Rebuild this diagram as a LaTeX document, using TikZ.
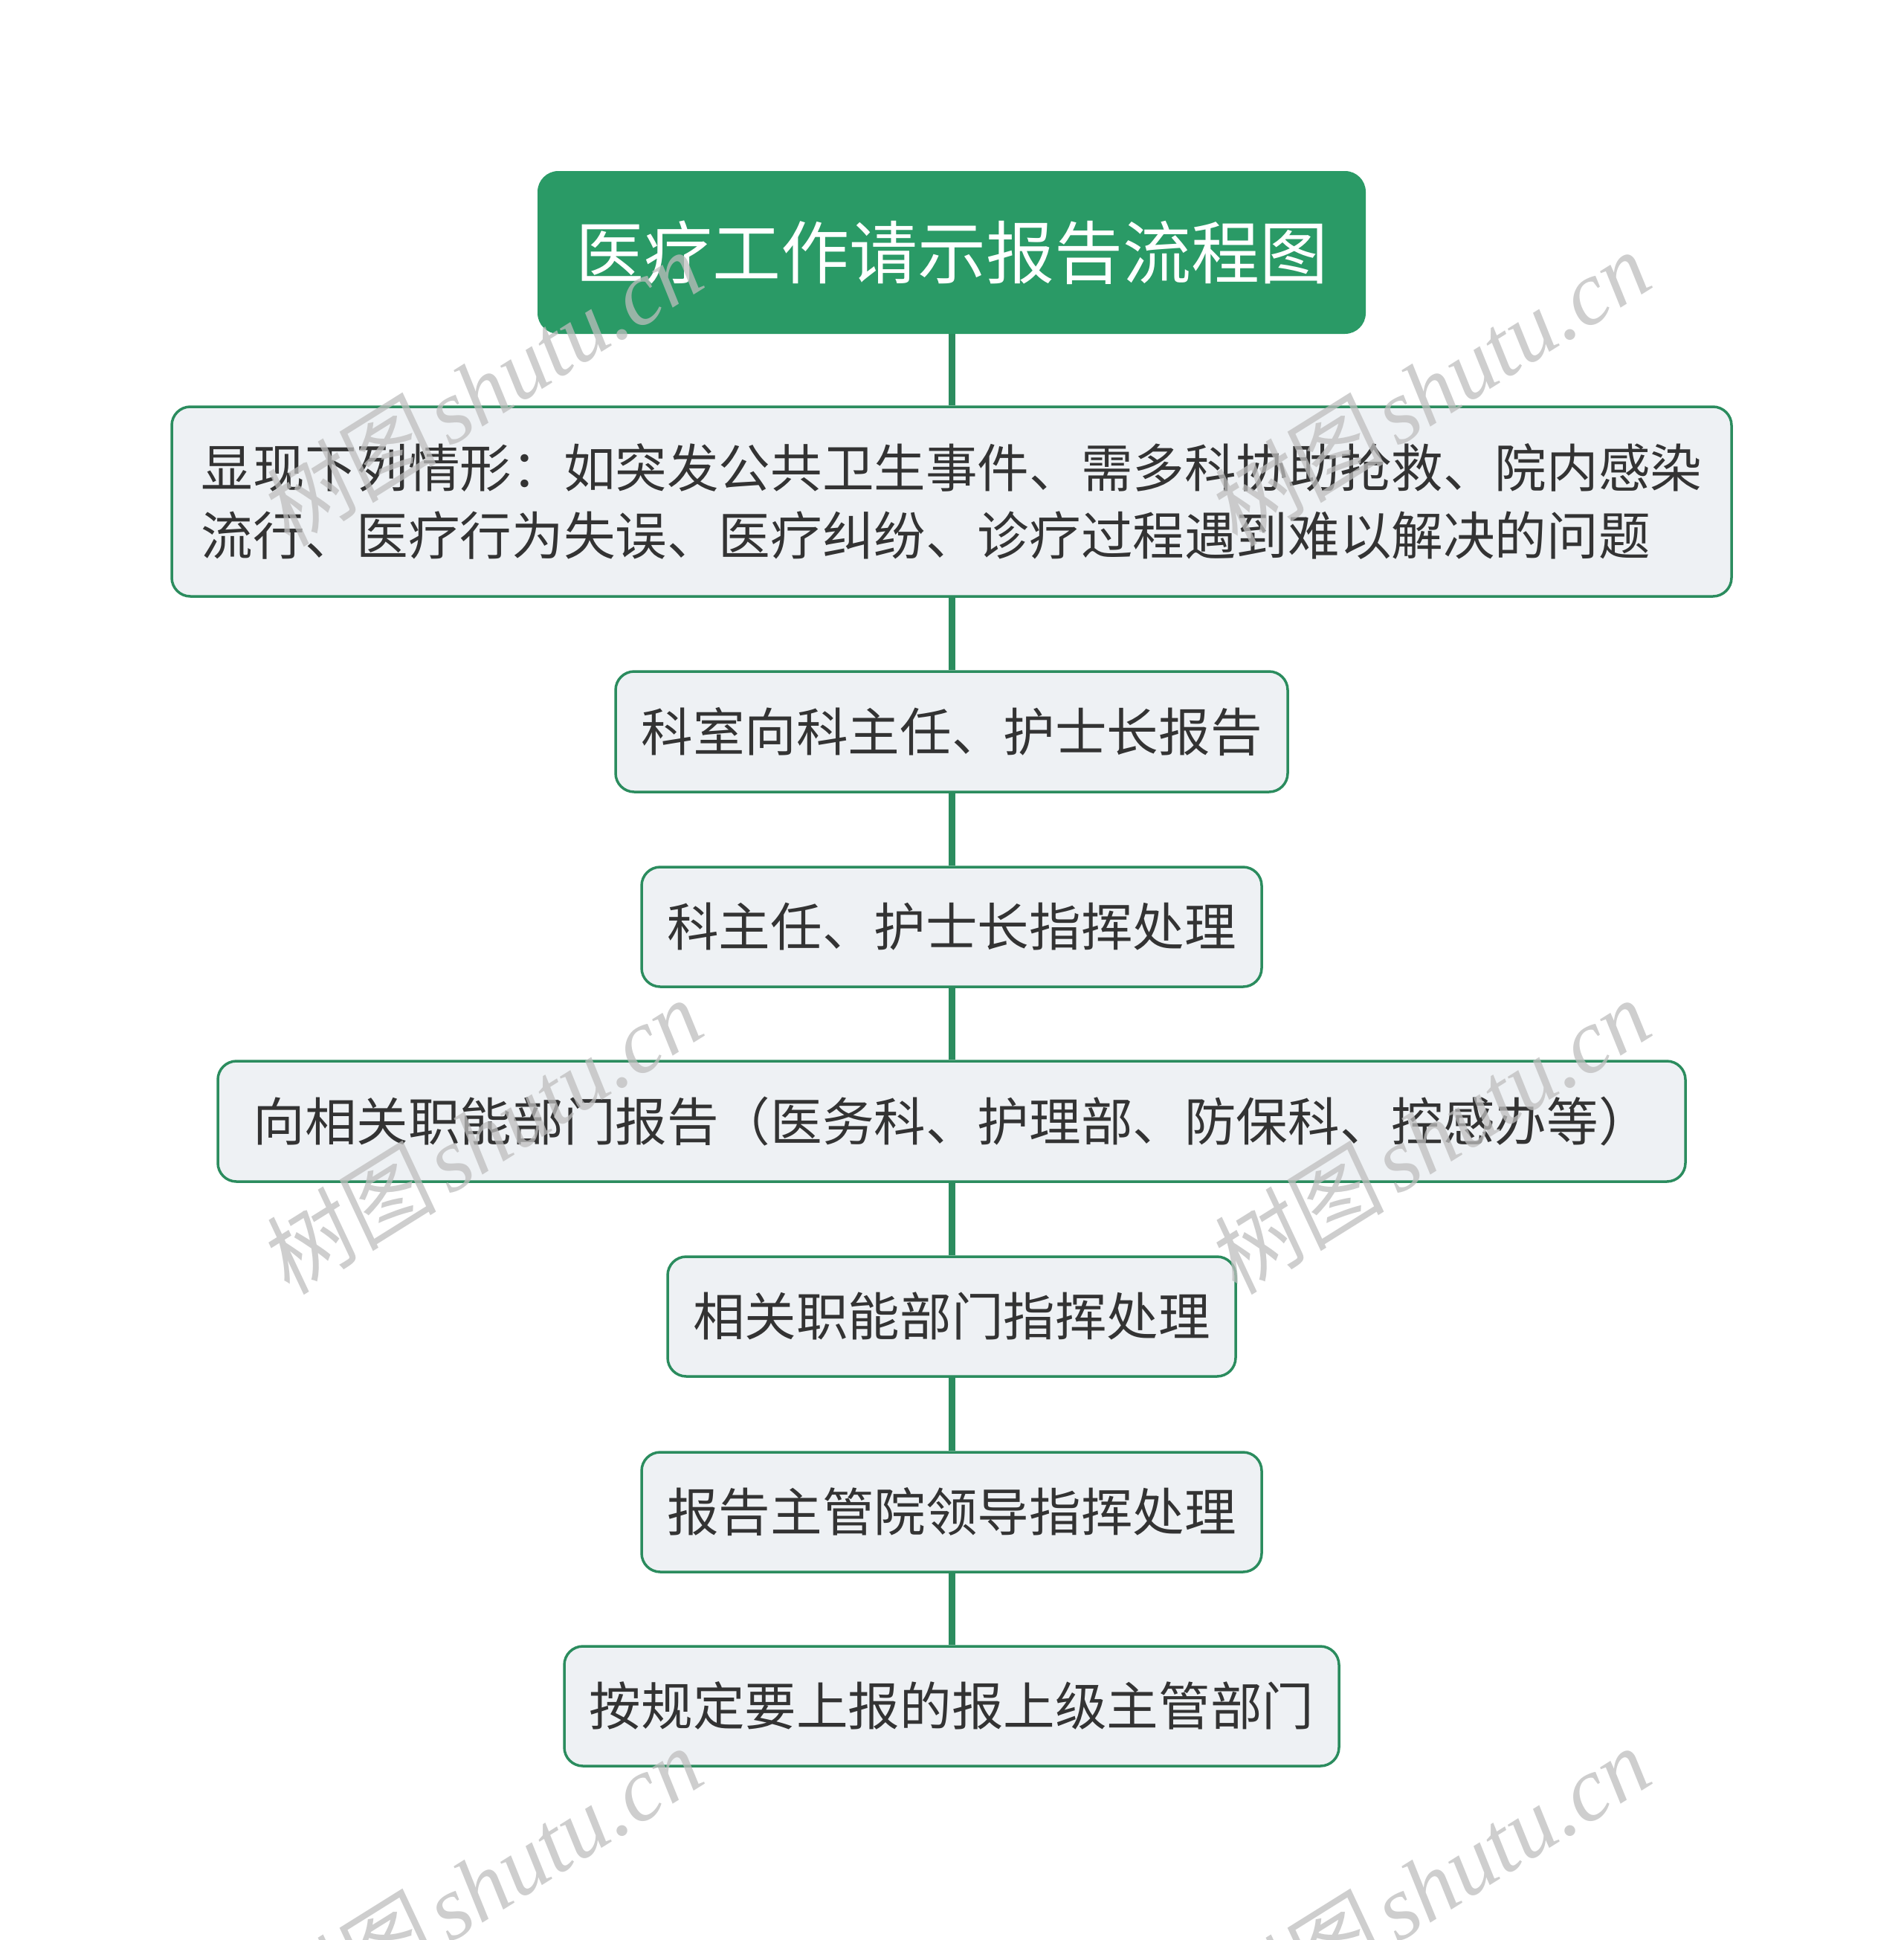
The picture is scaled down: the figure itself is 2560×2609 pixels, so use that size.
\documentclass[tikz,border=0pt]{standalone}
\usepackage{fontspec}
\newfontfamily\cjk{Noto Sans CJK SC}
\newfontfamily\wmcjk[FakeSlant=0.12]{Noto Sans CJK SC}
\newfontfamily\wmlat{Liberation Serif}
\definecolor{titlegreen}{RGB}{42,154,102}
\definecolor{linegreen}{RGB}{43,140,94}
\definecolor{boxfill}{RGB}{238,241,244}
\definecolor{txt}{RGB}{51,51,51}
\definecolor{wm}{RGB}{190,190,190}
\begin{document}
\begin{tikzpicture}[x=1pt,y=-1pt,
  titlebox/.style={fill=titlegreen, draw=none, rounded corners=28pt, inner sep=0pt,
    text=white, font=\cjk\fontsize{92pt}{110pt}\selectfont,
    text height=81pt, text depth=11pt},
  flowbox/.style={fill=boxfill, draw=linegreen, line width=3.5pt, rounded corners=25pt,
    inner sep=0pt, text=txt, font=\cjk\fontsize{69.6pt}{91.5pt}\selectfont},
  oneline/.style={text height=61.2pt, text depth=8.4pt},
  conn/.style={draw=linegreen, line width=9pt},
  wmark/.style={text=wm, text opacity=0.75, rotate=32, anchor=base east, inner sep=0pt}
]
\useasboundingbox (0,0) rectangle (2560,2609);
\fill[white] (0,0) rectangle (2560,2609);

\node[titlebox, minimum width=1114pt, minimum height=219pt] (t) at (1280,339.5) {医疗工作请示报告流程图};
\node[flowbox, align=left, minimum width=2098pt, minimum height=255pt] (b1) at (1280,674.5)
  {显现下列情形：如突发公共卫生事件、需多科协助抢救、院内感染\\流行、医疗行为失误、医疗纠纷、诊疗过程遇到难以解决的问题};
\node[flowbox, oneline, minimum width=904pt, minimum height=162pt] (b2) at (1280,984) {科室向科主任、护士长报告};
\node[flowbox, oneline, minimum width=834pt, minimum height=161pt] (b3) at (1280,1246.5) {科主任、护士长指挥处理};
\node[flowbox, oneline, minimum width=1974pt, minimum height=162pt] (b4) at (1280,1508) {向相关职能部门报告（医务科、护理部、防保科、控感办等）};
\node[flowbox, oneline, minimum width=764pt, minimum height=161pt] (b5) at (1280,1770.5) {相关职能部门指挥处理};
\node[flowbox, oneline, minimum width=834pt, minimum height=161pt] (b6) at (1280,2033.5) {报告主管院领导指挥处理};
\node[flowbox, oneline, minimum width=1042pt, minimum height=161pt] (b7) at (1280,2294.5) {按规定要上报的报上级主管部门};

\draw[conn] (t.south) -- (b1.north);
\draw[conn] (b1.south) -- (b2.north);
\draw[conn] (b2.south) -- (b3.north);
\draw[conn] (b3.south) -- (b4.north);
\draw[conn] (b4.south) -- (b5.north);
\draw[conn] (b5.south) -- (b6.north);
\draw[conn] (b6.south) -- (b7.north);

\foreach \wx/\wy/\wn in {953/384/w1, 2228/384/w2, 953/1390/w3, 2228/1390/w4, 953/2396/w5, 2228/2396/w6}{
  \node[wmark] (\wn) at (\wx,\wy) {{\wmcjk\fontsize{120pt}{125pt}\selectfont 树图}\hspace{16pt}{\wmlat\itshape\fontsize{122pt}{125pt}\selectfont shutu.cn}};
}
\end{tikzpicture}
\end{document}
